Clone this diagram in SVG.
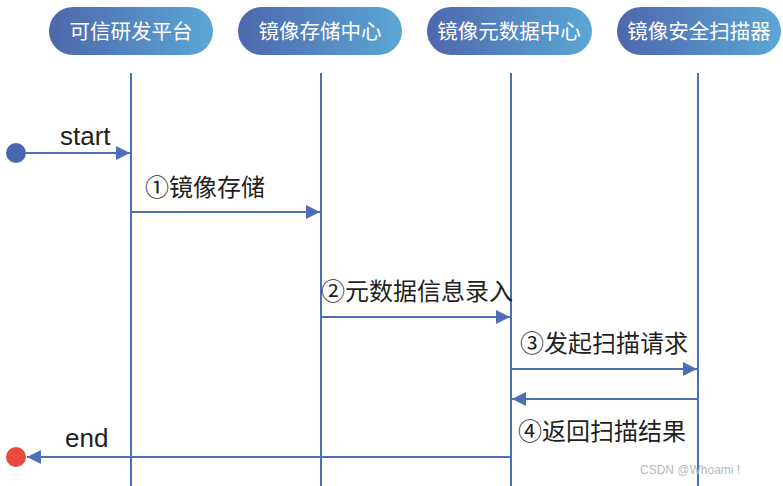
<svg xmlns="http://www.w3.org/2000/svg" width="783" height="486" viewBox="0 0 783 486">
<style>
.pill{fill:url(#g)}
.ptxt{font-family:"Noto Sans CJK SC","Noto Sans",sans-serif;font-size:20.5px;fill:#ffffff;text-anchor:middle}
.life{stroke:#4d6fb8;stroke-width:2;fill:none}
.msg{stroke:#4d6fb8;stroke-width:2;fill:none}
.lbl{font-family:"Liberation Sans","Noto Sans CJK SC",sans-serif;font-size:24px;fill:#231f20}
.lat{font-family:"Liberation Sans",sans-serif;font-size:26px;fill:#231f20}
.wm{font-family:"Liberation Sans",sans-serif;font-size:12px;fill:#b8b8b8}
</style>
<defs>
<linearGradient id="g" x1="0" y1="0" x2="1" y2="0">
<stop offset="0" stop-color="#4e67ab"/>
<stop offset="1" stop-color="#5ba7d6"/>
</linearGradient>
<marker id="ah" viewBox="0 0 14 14" refX="14" refY="7" markerWidth="14" markerHeight="14" markerUnits="userSpaceOnUse" orient="auto">
<path d="M0,0 L14,7 L0,14 Z" fill="#4d6fb8"/>
</marker>
</defs>
<rect width="783" height="486" fill="#ffffff"/>
<g id="lifelines">
<line class="life" x1="131" y1="73" x2="131" y2="486"/>
<line class="life" x1="321" y1="73" x2="321" y2="486"/>
<line class="life" x1="511" y1="73" x2="511" y2="486"/>
<line class="life" x1="698" y1="73" x2="698" y2="486"/>
</g>
<g id="n1"><rect class="pill" x="49" y="7" width="164" height="48" rx="24"/><text class="ptxt" x="131" y="38.5">可信研发平台</text></g>
<g id="n2"><rect class="pill" x="238" y="7" width="164" height="48" rx="24"/><text class="ptxt" x="320" y="38.5">镜像存储中心</text></g>
<g id="n3"><rect class="pill" x="427" y="7" width="165" height="48" rx="24"/><text class="ptxt" x="509" y="38.5">镜像元数据中心</text></g>
<g id="n4"><rect class="pill" x="617" y="7" width="164" height="48" rx="24"/><text class="ptxt" x="699" y="38.5">镜像安全扫描器</text></g>
<g id="start"><circle cx="16" cy="153" r="10" fill="#4a66b0"/></g>
<g id="end"><circle cx="16" cy="457" r="10" fill="#e84b3c"/></g>
<g id="connectors">
<line class="msg" x1="26" y1="153" x2="130" y2="153" marker-end="url(#ah)"/>
<line class="msg" x1="131" y1="212" x2="320" y2="212" marker-end="url(#ah)"/>
<line class="msg" x1="321" y1="317" x2="510" y2="317" marker-end="url(#ah)"/>
<line class="msg" x1="511" y1="369" x2="697" y2="369" marker-end="url(#ah)"/>
<line class="msg" x1="698" y1="399" x2="512" y2="399" marker-end="url(#ah)"/>
<line class="msg" x1="511" y1="457" x2="27" y2="457" marker-end="url(#ah)"/>
</g>
<g id="labels">
<text class="lat" x="60" y="145">start</text>
<text class="lbl" x="145" y="196">①镜像存储</text>
<text class="lbl" x="321" y="300">②元数据信息录入</text>
<text class="lbl" x="520" y="352">③发起扫描请求</text>
<text class="lbl" x="518" y="440">④返回扫描结果</text>
<text class="lat" x="65" y="447">end</text>
<text class="wm" x="640" y="474">CSDN @Whoami !</text>
</g>
</svg>
